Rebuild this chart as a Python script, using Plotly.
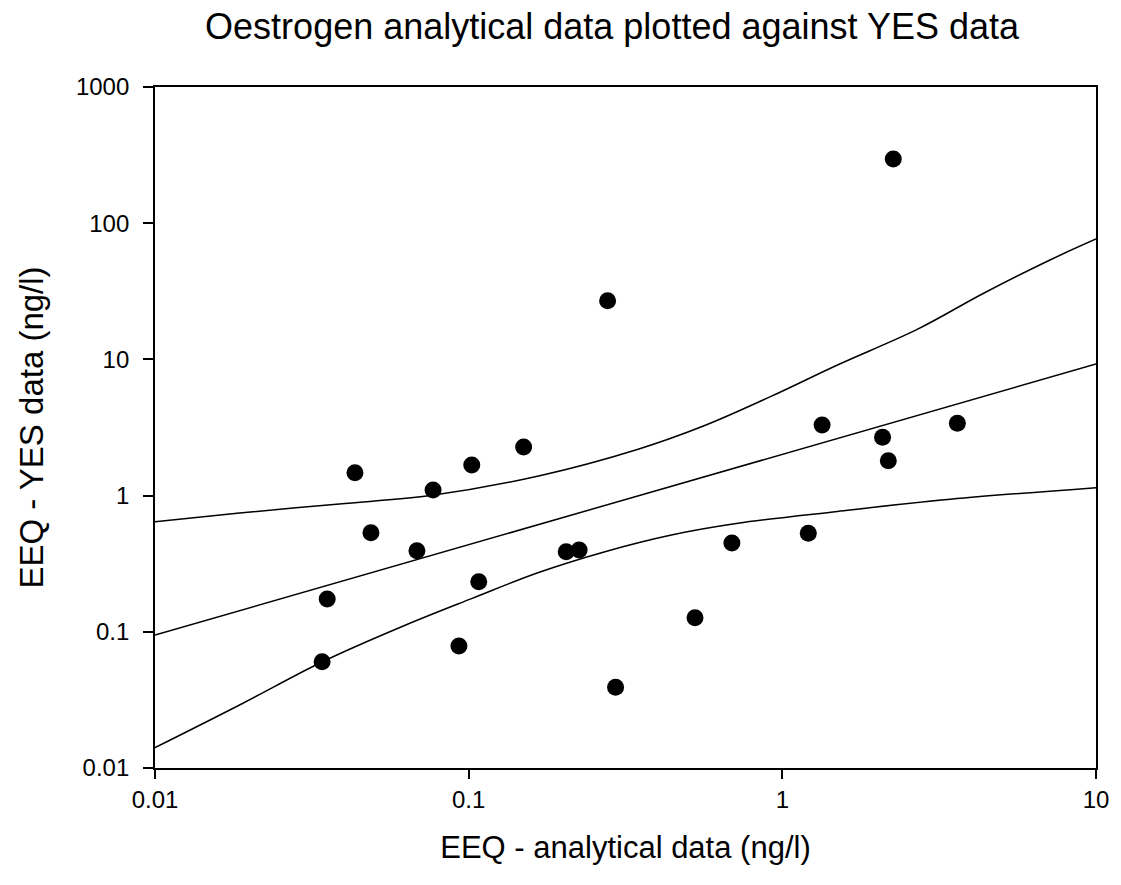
import plotly.graph_objects as go

# Scatter data (EEQ analytical vs EEQ YES), ng/l
analytical = [0.0341, 0.0354, 0.0434, 0.0488, 0.0684, 0.0770, 0.0931, 0.1023,
              0.1077, 0.1497, 0.2046, 0.2250, 0.2773, 0.2940, 0.5267, 0.6905,
              1.210, 1.339, 2.087, 2.177, 2.258, 3.614]
yes_data = [0.0603, 0.174, 1.472, 0.534, 0.394, 1.099, 0.0787, 1.678,
            0.2333, 2.274, 0.3875, 0.3987, 26.98, 0.0391, 0.1269, 0.4487,
            0.5287, 3.299, 2.679, 1.804, 296.0, 3.395]

# Regression line
fit_x = [0.01, 1.0, 10.0]
fit_y = [0.0947, 2.01, 9.25]

# Upper confidence band
upper_x = [0.01, 0.0186, 0.0387, 0.0766, 0.167, 0.347, 0.5656, 0.920, 1.499,
           2.691, 4.383, 7.134, 10.0]
upper_y = [0.643, 0.745, 0.868, 1.005, 1.393, 2.19, 3.27, 5.35, 9.10,
           16.6, 30.6, 53.7, 76.5]

# Lower confidence band
lower_x = [0.01, 0.0186, 0.0342, 0.0630, 0.1026, 0.167, 0.272, 0.443, 0.7216,
           1.499, 3.433, 10.0]
lower_y = [0.0141, 0.0290, 0.0603, 0.1122, 0.176, 0.2724, 0.3875, 0.5137,
           0.626, 0.7645, 0.939, 1.143]

x_ticks = [0.01, 0.1, 1, 10]
x_ticktext = ["0.01", "0.1", "1", "10"]
y_ticks = [0.01, 0.1, 1, 10, 100, 1000]
y_ticktext = ["0.01", "0.1", "1", "10", "100", "1000"]

FONT = "Liberation Sans, Arial, Helvetica, sans-serif"

fig = go.Figure()
line_style = dict(color="black", width=1.5, shape="spline", smoothing=1.0)
fig.add_trace(go.Scatter(x=upper_x, y=upper_y, mode="lines", line=line_style,
                         hoverinfo="skip"))
fig.add_trace(go.Scatter(x=fit_x, y=fit_y, mode="lines",
                         line=dict(color="black", width=1.5), hoverinfo="skip"))
fig.add_trace(go.Scatter(x=lower_x, y=lower_y, mode="lines", line=line_style,
                         hoverinfo="skip"))
fig.add_trace(go.Scatter(x=analytical, y=yes_data, mode="markers",
                         marker=dict(color="black", size=17, line=dict(width=0))))

fig.update_layout(
    width=1121, height=885,
    margin=dict(l=155, r=21, t=87, b=117),
    paper_bgcolor="white", plot_bgcolor="white",
    showlegend=False,
    font=dict(family=FONT, color="black", size=24),
    title=dict(text="Oestrogen analytical data plotted against YES data",
               font=dict(family=FONT, size=36, color="black"),
               x=0.4857, xref="paper", xanchor="center",
               y=1 - 26 / 885, yref="container", yanchor="middle"),
)
fig.update_xaxes(type="log", range=[-2, 1], tickvals=x_ticks, ticktext=x_ticktext,
                 showgrid=False, zeroline=False, showline=True, linecolor="black",
                 linewidth=1.8, mirror=True, ticks="outside", ticklen=9, tickwidth=1.5,
                 tickcolor="black", tickfont=dict(size=24),
                 title=dict(text="EEQ - analytical data (ng/l)", font=dict(size=31),
                            standoff=25))
fig.update_yaxes(type="log", range=[-2, 3], tickvals=y_ticks, ticktext=y_ticktext,
                 showgrid=False, zeroline=False, showline=True, linecolor="black",
                 linewidth=1.8, mirror=True, ticks="outside", ticklen=10, tickwidth=1.5,
                 tickcolor="black", tickfont=dict(size=24), ticklabelstandoff=9,
                 title=dict(text="EEQ - YES data (ng/l)", font=dict(size=33),
                            standoff=22))

fig.write_html("out.html")
